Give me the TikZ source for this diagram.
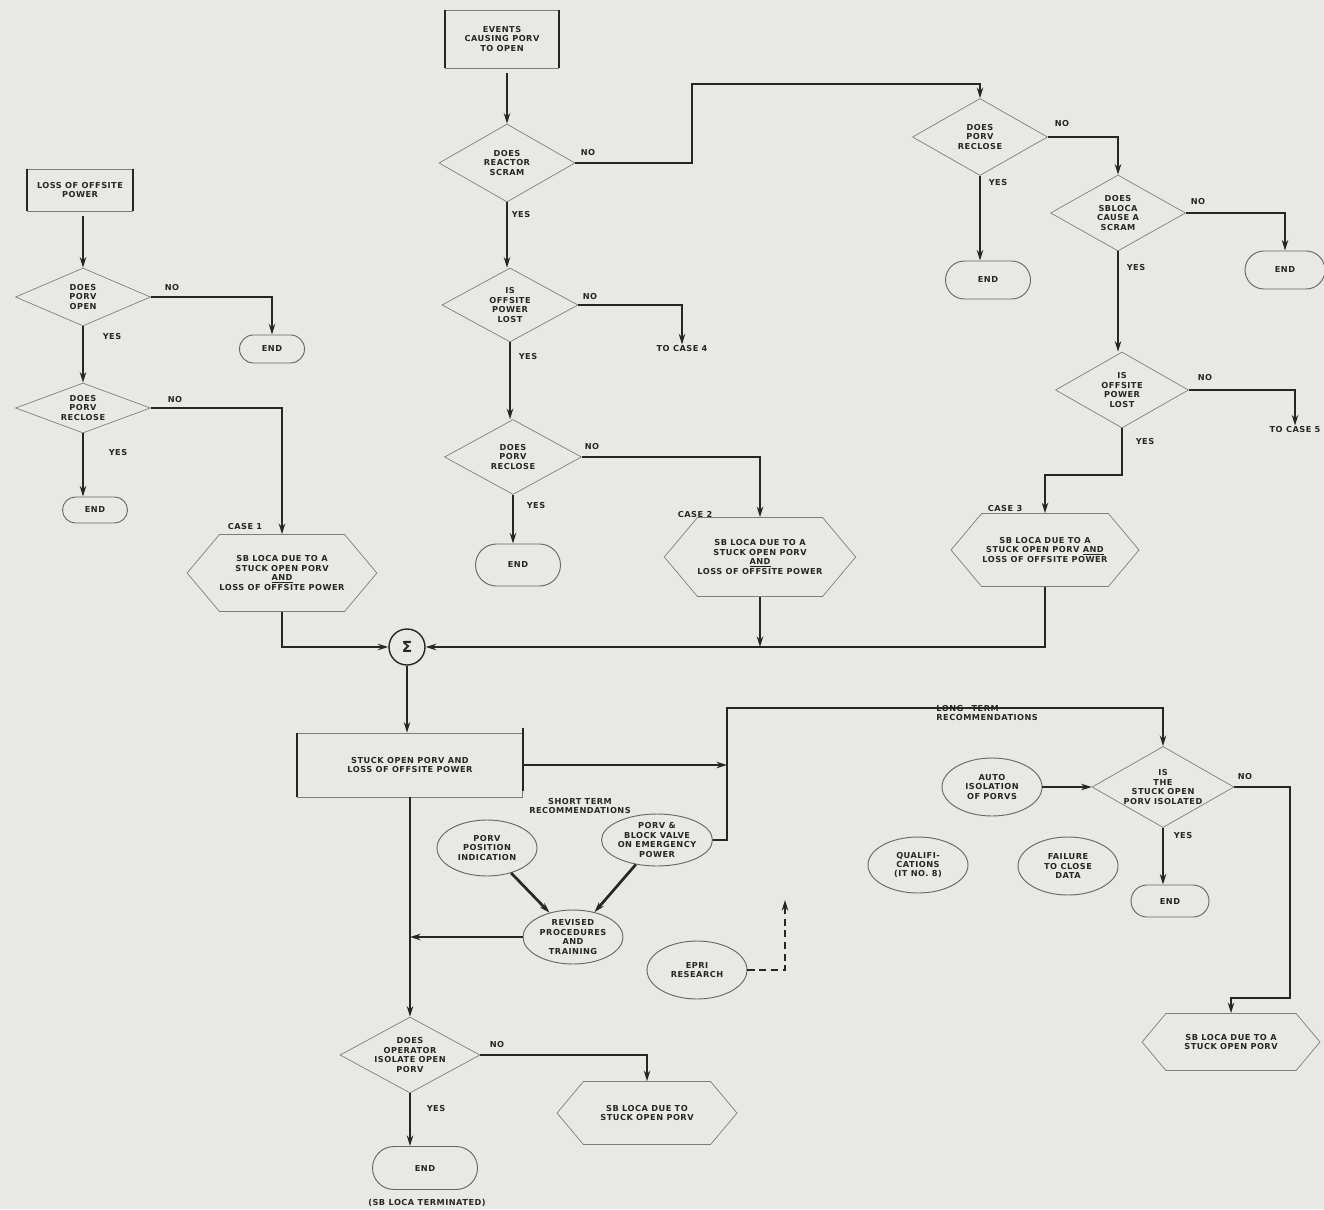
\documentclass[tikz,border=0pt]{standalone}
\usepackage{fontspec}
\setmainfont{DejaVu Sans}[LetterSpace=6]
\usetikzlibrary{shapes.geometric,shapes.misc,shapes.symbols,arrows.meta}
\definecolor{bg}{RGB}{232,232,229}
\definecolor{ink}{RGB}{38,38,38}
\definecolor{faint}{RGB}{125,125,125}
\newcommand{\fnt}{\fontsize{7}{8.5}\selectfont\bfseries}
\begin{document}
\begin{tikzpicture}[x=0.03cm, y=-0.03cm,
  every node/.style={font=\fnt, text=ink, align=center},
  ln/.style={line width=2.3pt, draw=ink},
  arr/.style={ln, -{Stealth[length=9pt,width=5.5pt]}},
  sz/.style 2 args={minimum width=#1*0.03cm, minimum height=#2*0.03cm},
  dia/.style={diamond, draw=faint, line width=0.6pt, inner sep=0pt, aspect=1.78},
  term/.style={rounded rectangle, draw=ink!70, line width=0.8pt, inner sep=0pt},
  ell/.style={ellipse, draw=ink!70, line width=0.8pt, inner sep=0pt, font=\fontsize{7}{8}\selectfont\bfseries},
  hexa/.style={signal, signal to=east and west, signal pointer angle=100, draw=faint, line width=0.6pt, inner sep=0pt},
  bx/.style={rectangle, draw=faint, line width=0.6pt, inner sep=0pt},
  side/.style={draw=ink, line width=1.5pt},
  lbl/.style={inner sep=1pt}]
\useasboundingbox (0,0) rectangle (1324,1209);
\fill[bg] (0,0) rectangle (1324,1209);

% ---------- left column ----------
\node[bx, sz={105}{42}] (loop) at (80,190) {LOSS OF OFFSITE\\POWER};
\draw[side] (loop.north west) -- (loop.south west);
\draw[side] (loop.north east) -- (loop.south east);
\node[dia, sz={135}{58}, aspect=2.33] (d1) at (83,297) {DOES\\PORV\\OPEN};
\draw[arr, shorten <=4pt] (d1.north |- loop.south) -- (d1.north);
\node[term, sz={65}{28}] (e1) at (272,349) {END};
\draw[arr] (d1.east) -| (e1.north);
\node[lbl] (l1) at (172,288) {NO};
\node[lbl] (l2) at (112,337) {YES};
\node[dia, sz={135}{50}, aspect=2.7] (d2) at (83,408) {DOES\\PORV\\RECLOSE};
\draw[arr] (d1.south) -- (d2.north);
\node[term, sz={65}{26}] (e2) at (95,510) {END};
\draw[arr] (d2.south) -- (d2.south |- e2.north);
\node[lbl] (l3) at (175,400) {NO};
\node[lbl] (l4) at (118,453) {YES};
\node[hexa, sz={173}{77}] (c1) at (282,573) {SB LOCA DUE TO A\\STUCK OPEN PORV\\\underline{AND}\\LOSS OF OFFSITE POWER};
\node[lbl] (l5) at (245,527) {CASE 1};
\draw[arr] (d2.east) -| (c1.north);

\node[circle, draw=ink, line width=1.2pt, minimum size=36*0.03cm, inner sep=0pt, font=\fontsize{13}{13}\selectfont\bfseries] (sig) at (407,647) {Σ};
\draw[arr] (c1.south) |- (sig.west);

% ---------- centre column ----------
\node[bx, sz={113}{58}] (ev) at (502,39) {EVENTS\\CAUSING PORV\\TO OPEN};
\draw[side] (ev.north west) -- (ev.south west);
\draw[side] (ev.north east) -- (ev.south east);
\node[dia, sz={136}{78}] (d3) at (507,163) {DOES\\REACTOR\\SCRAM};
\draw[arr, shorten <=4pt] (d3.north |- ev.south) -- (d3.north);
\node[lbl] (l6) at (588,153) {NO};
\node[dia, sz={136}{74}] (d4) at (510,305) {IS\\OFFSITE\\POWER\\LOST};
\draw[arr] (d3.south) -- (d3.south |- d4.north);
\node[lbl] (l7) at (521,215) {YES};
\node[lbl] (tc4) at (682,349) {TO CASE 4};
\draw[arr] (d4.east) -| (tc4.north);
\node[lbl] (l8) at (590,297) {NO};
\node[dia, sz={137}{75}] (d6) at (513,457) {DOES\\PORV\\RECLOSE};
\draw[arr] (d4.south) -- (d4.south |- d6.north);
\node[lbl] (l9) at (528,357) {YES};
\node[term, sz={85}{42}] (e3) at (518,565) {END};
\draw[arr] (d6.south) -- (d6.south |- e3.north);
\node[lbl] (l10) at (536,506) {YES};
\node[hexa, sz={188}{79}] (c2) at (760,557) {SB LOCA DUE TO A\\STUCK OPEN PORV\\\underline{AND}\\LOSS OF OFFSITE POWER};
\node[lbl] (l11) at (695,515) {CASE 2};
\draw[arr] (d6.east) -| (c2.north);
\node[lbl] (l12) at (592,447) {NO};

% ---------- right column ----------
\node[dia, sz={135}{77}] (d5) at (980,137) {DOES\\PORV\\RECLOSE};
\coordinate (j1) at (692,84);
\draw[arr] (d3.east) -| (j1) -| (d5.north);
\node[term, sz={85}{38}] (e4) at (988,280) {END};
\draw[arr] (d5.south) -- (d5.south |- e4.north);
\node[lbl] (l13) at (998,183) {YES};
\node[dia, sz={135}{76}] (d7) at (1118,213) {DOES\\SBLOCA\\CAUSE A\\SCRAM};
\draw[arr] (d5.east) -| (d7.north);
\node[lbl] (l14) at (1062,124) {NO};
\node[term, sz={80}{38}] (e5) at (1285,270) {END};
\draw[arr] (d7.east) -| (e5.north);
\node[lbl] (l15) at (1198,202) {NO};
\node[dia, sz={133}{76}] (d8) at (1122,390) {IS\\OFFSITE\\POWER\\LOST};
\draw[arr] (d7.south) -- (d7.south |- d8.north);
\node[lbl] (l16) at (1136,268) {YES};
\node[lbl] (tc5) at (1295,430) {TO CASE 5};
\draw[arr] (d8.east) -| (tc5.north);
\node[lbl] (l17) at (1205,378) {NO};
\node[hexa, sz={188}{73}] (c3) at (1045,550) {SB LOCA DUE TO A\\STUCK OPEN PORV \underline{AND}\\LOSS OF OFFSITE POWER};
\node[lbl] (l18) at (1005,509) {CASE 3};
\coordinate (j2) at (1122,475);
\draw[arr] (d8.south) -- (j2) -| (c3.north);
\node[lbl] (l19) at (1145,442) {YES};

\draw[arr] (c3.south) |- (sig.east);
\draw[arr] (c2.south) -- (c2.south |- sig.east);

% ---------- lower part ----------
\node[bx, sz={225}{64}] (sob) at (410,765) {STUCK OPEN PORV AND\\LOSS OF OFFSITE POWER};
\draw[side] (sob.north west) -- (sob.south west);
\draw[side] ([yshift=0.15cm]sob.north east) -- ([yshift=0.2cm]sob.south east);
\draw[arr] (sig.south) -- (sig.south |- sob.north);

\node[lbl] (st) at (580,806) {SHORT TERM\\RECOMMENDATIONS};
\node[lbl, align=left, anchor=west] (lt) at (935,713) {LONG\quad TERM\\RECOMMENDATIONS};

\node[ell, sz={100}{56}] (ppi) at (487,848) {PORV\\POSITION\\INDICATION};
\node[ell, sz={100}{52}] (pb) at (657,840) {PORV \&\\BLOCK VALVE\\ON EMERGENCY\\POWER};
\node[ell, sz={100}{54}] (rpt) at (573,937) {REVISED\\PROCEDURES\\AND\\TRAINING};
\node[ell, sz={100}{58}] (epri) at (697,970) {EPRI\\RESEARCH};
\draw[arr] (ppi) -- (rpt);
\draw[arr] (pb) -- (rpt);

\coordinate (v1) at (727,765);
\coordinate (vt) at (727,708);
\draw[arr] (sob.east) -- (v1);

\node[ell, sz={100}{58}] (aiso) at (992,787) {AUTO\\ISOLATION\\OF PORVS};
\node[dia, sz={140}{80}, aspect=1.75] (d9) at (1163,787) {IS\\THE\\STUCK OPEN\\PORV ISOLATED};
\draw[arr] (pb.east) -| (vt) -| (d9.north);
\draw[arr] (aiso.east) -- (d9.west);
\node[term, sz={78}{32}] (e7) at (1170,901) {END};
\draw[arr] (d9.south) -- (d9.south |- e7.north);
\node[lbl] (l20) at (1183,836) {YES};
\node[lbl] (l21) at (1245,777) {NO};
\node[ell, sz={100}{56}] (qual) at (918,865) {QUALIFI-\\CATIONS\\(IT NO. 8)};
\node[ell, sz={100}{58}] (fcd) at (1068,866) {FAILURE\\TO CLOSE\\DATA};
\node[hexa, sz={178}{57}] (h6) at (1231,1042) {SB LOCA DUE TO A\\STUCK OPEN PORV};
\coordinate (j3) at (1290,998);
\draw[arr] (d9.east) -| (j3) -| (h6.north);

\coordinate (rs) at (785,900);
\draw[ln, line width=1.6pt, dash pattern=on 6pt off 4pt, -{Stealth[length=9pt,width=5.5pt]}] (epri.east) -| (rs);

\node[dia, sz={140}{76}, aspect=1.84] (d10) at (410,1055) {DOES\\OPERATOR\\ISOLATE OPEN\\PORV};
\draw[arr] (sob.south) -- (sob.south |- d10.north);
\draw[arr] (rpt.west) -- (rpt.west -| sob.south);
\node[term, sz={105}{43}] (e6) at (425,1168) {END};
\draw[arr] (d10.south) -- (d10.south |- e6.north);
\node[lbl] (l22) at (436,1108) {YES};
\node[lbl] (term) at (427,1203) {(SB LOCA TERMINATED)};
\node[hexa, sz={180}{63}] (h5) at (647,1113) {SB LOCA DUE TO\\STUCK OPEN PORV};
\draw[arr] (d10.east) -| (h5.north);
\node[lbl] (l23) at (497,1045) {NO};
\end{tikzpicture}
\end{document}
